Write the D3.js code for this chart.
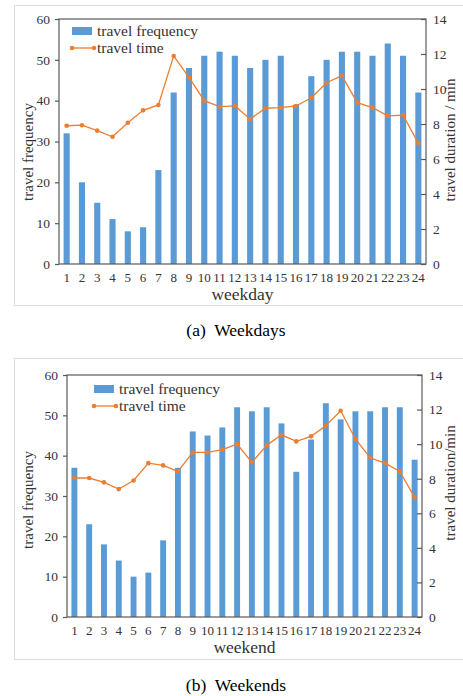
<!DOCTYPE html>
<html>
<head>
<meta charset="utf-8">
<script src="https://cdn.jsdelivr.net/npm/d3@7"></script>
<style>
    body { margin: 0; background: #fff; }
    svg text { font-family: "Liberation Serif", "DejaVu Serif", serif; fill: #333; }
</style>
</head>
<body>
<div id="chart"></div>
<script>
    // hours of the day
    let hours = d3.range(1, 25)

    let yFreqTicks = [0, 10, 20, 30, 40, 50, 60]
    let yTimeTicks = [0, 2, 4, 6, 8, 10, 12, 14]

    let weekdayFreq = [32, 20, 15, 11, 8, 9, 23, 42, 48, 51, 52, 51, 48, 50, 51, 39, 46, 50, 52, 52, 51, 54, 51, 42]
    let weekdayTime = [7.9, 7.93, 7.62, 7.27, 8.07, 8.78, 9.09, 11.89, 10.67, 9.33, 8.99, 9.03, 8.29, 8.9, 8.93, 9.03, 9.5, 10.36, 10.76, 9.22, 8.93, 8.47, 8.51, 6.9]

    let weekendFreq = [37, 23, 18, 14, 10, 11, 19, 37, 46, 45, 47, 52, 51, 52, 48, 36, 44, 53, 49, 51, 51, 52, 52, 39]
    let weekendTime = [8.04, 8.04, 7.79, 7.4, 7.9, 8.9, 8.77, 8.42, 9.52, 9.52, 9.68, 10.0, 8.94, 9.93, 10.54, 10.16, 10.45, 11.06, 11.93, 10.3, 9.2, 8.9, 8.42, 6.92]

    let blue = "#5B9BD5"
    let orange = "#ED7D31"
    let axisColor = "#595959"

    let svg = d3.select("#chart")
        .append("svg")
        .attr("width", 463)
        .attr("height", 696)

    function drawPanel(opts) {
        let g = svg.append("g")

        // light outer frame
        g.append("rect")
            .attr("x", 14.5)
            .attr("y", opts.frameTop + 0.5)
            .attr("width", 470)
            .attr("height", opts.frameH)
            .attr("fill", "none")
            .attr("stroke", "#dcdcdc")

        let x = d3.scaleBand()
            .domain(hours)
            .range([opts.left, opts.right])
            .paddingInner(0.6)
            .paddingOuter(0.3)

        let y = d3.scaleLinear()
            .domain([0, 60])
            .range([opts.bottom, opts.top])

        let y2 = d3.scaleLinear()
            .domain([0, 14])
            .range([opts.bottom, opts.top])

        // bars
        g.append("g")
            .selectAll("rect")
            .data(opts.freq)
            .enter()
            .append("rect")
            .attr("x", (d, i) => x(hours[i]))
            .attr("y", d => y(d))
            .attr("width", x.bandwidth())
            .attr("height", d => y(0) - y(d))
            .attr("fill", blue)

        // plot box
        g.append("rect")
            .attr("x", opts.left)
            .attr("y", opts.top)
            .attr("width", opts.right - opts.left)
            .attr("height", opts.bottom - opts.top)
            .attr("fill", "none")
            .attr("stroke", axisColor)
            .attr("stroke-width", 1.2)

        // line
        let cx = (d, i) => x(hours[i]) + x.bandwidth() / 2
        let line = d3.line()
            .x(cx)
            .y(d => y2(d))

        g.append("path")
            .datum(opts.time)
            .attr("d", line)
            .attr("fill", "none")
            .attr("stroke", orange)
            .attr("stroke-width", 1.3)

        g.append("g")
            .selectAll("circle")
            .data(opts.time)
            .enter()
            .append("circle")
            .attr("cx", cx)
            .attr("cy", d => y2(d))
            .attr("r", 2.3)
            .attr("fill", orange)

        // axes
        let xAxis = d3.axisBottom(x)
            .tickSize(0)
            .tickPadding(9)

        let yAxis = d3.axisLeft(y)
            .tickValues(yFreqTicks)
            .tickSize(4)
            .tickPadding(5)

        let y2Axis = d3.axisRight(y2)
            .tickValues(yTimeTicks)
            .tickSize(-5)
            .tickPadding(7)

        g.append("g")
            .attr("class", "x axis")
            .attr("transform", "translate(0," + opts.bottom + ")")
            .call(xAxis)

        g.append("g")
            .attr("class", "y axis")
            .attr("transform", "translate(" + opts.left + ",0)")
            .call(yAxis)

        g.append("g")
            .attr("class", "y2 axis")
            .attr("transform", "translate(" + opts.right + ",0)")
            .call(y2Axis)

        g.selectAll(".axis .domain").remove()
        g.selectAll(".axis line").attr("stroke", axisColor).attr("stroke-width", 1.2)
        g.selectAll(".axis text")
            .style("font-family", "'Liberation Serif', serif")
            .style("fill", "#333")
        g.selectAll(".x.axis text").style("font-size", "13px")
        g.selectAll(".y.axis text, .y2.axis text").style("font-size", "13.5px")

        // axis titles
        g.append("text")
            .attr("x", (opts.left + opts.right) / 2)
            .attr("y", opts.bottom + 36)
            .attr("text-anchor", "middle")
            .style("font-size", "17.5px")
            .text(opts.xLabel)

        g.append("text")
            .attr("transform", "translate(" + opts.yLabelX + "," + opts.yLabelY + ") rotate(-90)")
            .attr("text-anchor", "middle")
            .style("font-size", "15px")
            .text("travel frequency")

        g.append("text")
            .attr("transform", "translate(" + opts.y2LabelX + "," + opts.y2LabelY + ") rotate(-90)")
            .attr("text-anchor", "middle")
            .style("font-size", "15px")
            .text(opts.y2Label)

        // legend
        let lx = opts.legendX
        let ly = opts.legendY
        g.append("rect")
            .attr("x", lx)
            .attr("y", ly)
            .attr("width", 20)
            .attr("height", 8)
            .attr("fill", blue)

        g.append("text")
            .attr("x", lx + 25)
            .attr("y", ly + 9)
            .style("font-size", "15.5px")
            .text("travel frequency")

        g.append("line")
            .attr("x1", lx)
            .attr("x2", lx + 22)
            .attr("y1", ly + 21)
            .attr("y2", ly + 21)
            .attr("stroke", orange)
            .attr("stroke-width", 1.3)

        g.selectAll(".legdot")
            .data([lx, lx + 22])
            .enter()
            .append("circle")
            .attr("cx", d => d)
            .attr("cy", ly + 21)
            .attr("r", 2.3)
            .attr("fill", orange)

        g.append("text")
            .attr("x", lx + 25)
            .attr("y", ly + 26)
            .style("font-size", "15.5px")
            .text("travel time")

        // caption
        g.append("text")
            .attr("x", 236)
            .attr("y", opts.captionY)
            .attr("text-anchor", "middle")
            .style("font-size", "17.5px")
            .style("fill", "#000")
            .style("white-space", "pre")
            .text(opts.caption)
    }

    drawPanel({
        freq: weekdayFreq,
        time: weekdayTime,
        frameTop: 5, frameH: 300,
        left: 59, right: 426, top: 19, bottom: 264,
        xLabel: "weekday",
        y2Label: "travel duration / min",
        yLabelX: 33, yLabelY: 152,
        y2LabelX: 455, y2LabelY: 140,
        legendX: 72, legendY: 27,
        caption: "(a)  Weekdays",
        captionY: 336
    })

    drawPanel({
        freq: weekendFreq,
        time: weekendTime,
        frameTop: 358, frameH: 301,
        left: 67, right: 422, top: 375, bottom: 617,
        xLabel: "weekend",
        y2Label: "travel duration/min",
        yLabelX: 33, yLabelY: 500,
        y2LabelX: 455, y2LabelY: 483,
        legendX: 94, legendY: 385,
        caption: "(b)  Weekends",
        captionY: 691
    })
</script>
</body>
</html>
